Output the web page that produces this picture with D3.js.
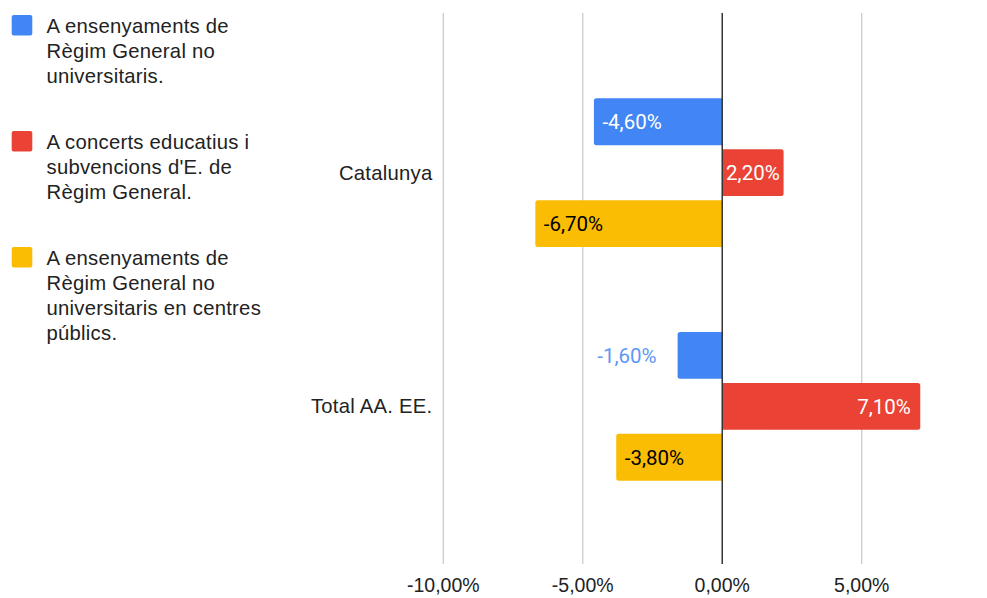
<!DOCTYPE html>
<html>
<head>
<meta charset="utf-8">
<script src="https://cdn.jsdelivr.net/npm/d3@7"></script>
<style>
  body { margin: 0; background: #fff; }
  svg { display: block; }
</style>
</head>
<body>
<svg id="chart" width="987" height="598"></svg>
<script>
// data
var categories = ["Catalunya", "Total AA. EE."];
var seriesNames = [
    "A ensenyaments de Règim General no universitaris.",
    "A concerts educatius i subvencions d'E. de Règim General.",
    "A ensenyaments de Règim General no universitaris en centres públics."
];
// legend line breaks as in the picture
var legendLines = [
    ["A ensenyaments de", "Règim General no", "universitaris."],
    ["A concerts educatius i", "subvencions d'E. de", "Règim General."],
    ["A ensenyaments de", "Règim General no", "universitaris en centres", "públics."]
];
var seriesColors = ["#4285f4", "#ea4335", "#fbbc04"];
var labelColors = ["#ffffff", "#ffffff", "#000000"];
var outsideColors = ["#5e97f6", "#ea4335", "#c79400"];
var valuesGeneral = [-4.6, -1.6];
var valuesConcerts = [2.2, 7.1];
var valuesPublics = [-6.7, -3.8];
var tickValues = [-10, -5, 0, 5];

var seriesValues = [valuesGeneral, valuesConcerts, valuesPublics];

var loc = d3.formatLocale({decimal: ",", thousands: ".", grouping: [3], currency: ["", "€"], minus: "-"});
var fmt = function (v) { return loc.format(".2f")(v) + "%"; };

var svg = d3.select("#chart");

var x = d3.scaleLinear().domain([-10, 5]).range([443.3, 861.7]);
var y0 = d3.scaleBand().domain(categories).range([55.8, 523.2]).paddingInner(0.364).paddingOuter(0.182);
var y1 = d3.scaleBand().domain(d3.range(seriesNames.length)).range([0, y0.bandwidth()]).paddingInner(0.08);

var gridTop = 13, gridBottom = 564;
var textFont = "Arial, 'Liberation Sans', sans-serif";

// gridlines
svg.append("g").selectAll("line")
    .data(tickValues.filter(function (d) { return d !== 0; }))
    .join("line")
    .attr("x1", function (d) { return x(d); })
    .attr("x2", function (d) { return x(d); })
    .attr("y1", gridTop)
    .attr("y2", gridBottom)
    .style("stroke", "#cccccc")
    .style("stroke-width", 1.3);

// tick labels
svg.append("g").selectAll("text")
    .data(tickValues)
    .join("text")
    .attr("x", function (d) { return x(d); })
    .attr("y", 592)
    .attr("text-anchor", "middle")
    .style("font-family", textFont)
    .style("font-size", "19.5px")
    .style("fill", "#222")
    .text(fmt);

// category labels
svg.append("g").selectAll("text")
    .data(categories)
    .join("text")
    .attr("x", 432.5)
    .attr("y", function (d) { return y0(d) + y0.bandwidth() / 2; })
    .attr("dy", "0.35em")
    .attr("text-anchor", "end")
    .style("font-family", textFont)
    .style("font-size", "20.3px")
    .style("letter-spacing", "0.25px")
    .style("fill", "#222")
    .text(function (d) { return d; });

// bar shape with rounded outer end
function barPath(v, top, h) {
    var r = 2.5;
    var a = x(0), b = x(v);
    if (v < 0) {
        return "M" + a + "," + top + "H" + (b + r) + "Q" + b + "," + top + " " + b + "," + (top + r) +
            "V" + (top + h - r) + "Q" + b + "," + (top + h) + " " + (b + r) + "," + (top + h) + "H" + a + "Z";
    }
    return "M" + a + "," + top + "H" + (b - r) + "Q" + b + "," + top + " " + b + "," + (top + r) +
        "V" + (top + h - r) + "Q" + b + "," + (top + h) + " " + (b - r) + "," + (top + h) + "H" + a + "Z";
}

var bars = [];
categories.forEach(function (c, ci) {
    seriesValues.forEach(function (vals, si) {
        bars.push({cat: c, s: si, v: vals[ci]});
    });
});

var barG = svg.append("g");
barG.selectAll("path")
    .data(bars)
    .join("path")
    .attr("d", function (d) { return barPath(d.v, y0(d.cat) + y1(d.s), y1.bandwidth()); })
    .style("fill", function (d) { return seriesColors[d.s]; });

// zero line
svg.append("line")
    .attr("x1", x(0))
    .attr("x2", x(0))
    .attr("y1", gridTop)
    .attr("y2", gridBottom)
    .style("stroke", "#333333")
    .style("stroke-width", 1.5);

// data labels
var labelG = svg.append("g");
bars.forEach(function (d) {
    var cy = y0(d.cat) + y1(d.s) + y1.bandwidth() / 2;
    var t = labelG.append("text")
        .attr("y", cy)
        .attr("dy", "0.36em")
        .style("font-family", "Roboto, sans-serif")
        .style("font-size", "20.5px")
        .text(fmt(d.v));
    var tw = t.node().getComputedTextLength();
    var bw = Math.abs(x(d.v) - x(0));
    var pad = 8.5;
    if (bw >= tw + 2 * pad) {
        t.style("fill", labelColors[d.s]);
        if (d.v < 0) t.attr("x", x(d.v) + pad).attr("text-anchor", "start");
        else t.attr("x", x(d.v) - pad - 1).attr("text-anchor", "end");
    } else if (bw >= tw + 4) {
        t.style("fill", labelColors[d.s])
            .attr("x", (x(d.v) + x(0)) / 2)
            .attr("text-anchor", "middle");
    } else {
        t.style("fill", outsideColors[d.s]);
        if (d.v < 0) t.attr("x", x(d.v) - 21).attr("text-anchor", "end");
        else t.attr("x", x(d.v) + 21).attr("text-anchor", "start");
    }
});

// legend
var legend = svg.append("g");
var ly = 15;
legendLines.forEach(function (lines, i) {
    legend.append("rect")
        .attr("x", 11.7)
        .attr("y", ly)
        .attr("width", 20.6)
        .attr("height", 20.6)
        .attr("rx", 2)
        .style("fill", seriesColors[i]);
    var txt = legend.append("text")
        .style("font-family", textFont)
        .style("font-size", "20.3px")
        .style("letter-spacing", "0.25px")
        .style("fill", "#222");
    lines.forEach(function (line, k) {
        txt.append("tspan")
            .attr("x", 46.5)
            .attr("y", ly + 17.5 + k * 25)
            .text(line);
    });
    ly += lines.length * 25 + 41;
});
</script>
</body>
</html>
